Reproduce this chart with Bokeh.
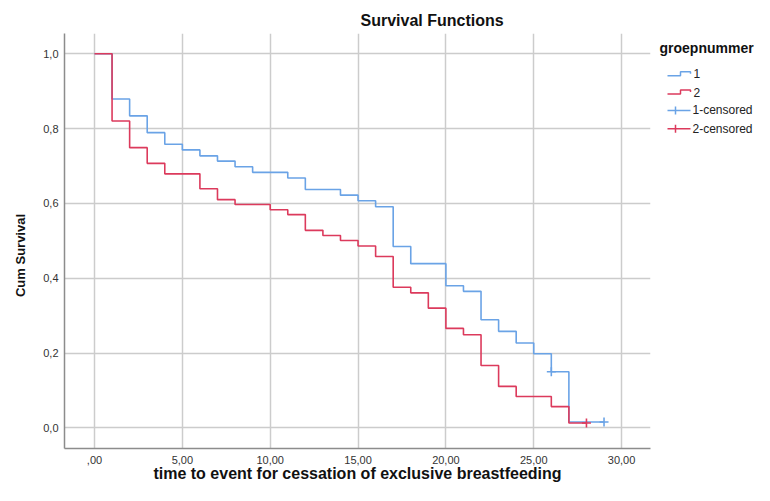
import math
from bokeh.plotting import figure
from bokeh.layouts import row
from bokeh.models import Range1d, FixedTicker
from bokeh.core.properties import value
from bokeh.embed import file_html
from bokeh.resources import INLINE

# ---------------- data ----------------
title_text = "Survival Functions"
x_label = "time to event for cessation of exclusive breastfeeding"
y_label = "Cum Survival"
legend_title = "groepnummer"
legend_labels = ["1", "2", "1-censored", "2-censored"]

# group 1 (blue): event times and survival after each time
g1_time = [0, 1, 2, 3, 4, 5, 6, 7, 8, 9, 11, 12, 14, 15, 16, 17, 18, 20, 21, 22, 23, 24, 25, 26, 27, 29]
g1_surv = [1.0, 0.879, 0.834, 0.789, 0.758, 0.743, 0.727, 0.713, 0.698, 0.683, 0.668, 0.637, 0.622,
           0.607, 0.591, 0.485, 0.439, 0.380, 0.365, 0.289, 0.258, 0.227, 0.198, 0.150, 0.016, 0.016]
g1_cens_time = [26, 29]
g1_cens_surv = [0.150, 0.016]

# group 2 (red)
g2_time = [0, 1, 2, 3, 4, 6, 7, 8, 10, 11, 12, 13, 14, 15, 16, 17, 18, 19, 20, 21, 22, 23, 24, 26, 27, 28]
g2_surv = [1.0, 0.820, 0.749, 0.707, 0.679, 0.639, 0.610, 0.597, 0.583, 0.570, 0.528, 0.514, 0.501,
           0.486, 0.458, 0.376, 0.361, 0.320, 0.266, 0.249, 0.167, 0.111, 0.084, 0.057, 0.013, 0.013]
g2_cens_time = [28]
g2_cens_surv = [0.013]

x_ticks = [0, 5, 10, 15, 20, 25, 30]
x_tick_labels = [",00", "5,00", "10,00", "15,00", "20,00", "25,00", "30,00"]
y_ticks = [0.0, 0.2, 0.4, 0.6, 0.8, 1.0]
y_tick_labels = ["0,0", "0,2", "0,4", "0,6", "0,8", "1,0"]

# ---------------- styles ----------------
BLUE = "#6aa3e6"
RED = "#dc3a5c"
FONT = "Liberation Sans"
GRID = "#cccccc"
AXIS = "#8c8c8c"
H = 485
TOP, BOTTOM = 33, 37          # borders shared by all panels (row aligns frames)
F_TOP, F_BOT = TOP, H - BOTTOM  # frame top/bottom in page pixels


def strip(width, y_range):
    f = figure(width=width, height=H, output_backend="svg", toolbar_location=None,
               x_range=Range1d(0, width), y_range=y_range,
               x_axis_type=None, y_axis_type=None,
               min_border_left=0, min_border_right=0,
               min_border_top=TOP, min_border_bottom=BOTTOM)
    f.outline_line_color = None
    f.grid.visible = False
    f.background_fill_color = "white"
    f.border_fill_color = "white"
    return f


# ---------------- left strip with the y-axis title (y measured from page bottom) ----------------
LEFT_W = 30
lf = strip(LEFT_W, Range1d(H - F_BOT, H - F_TOP))
lf.text(x=[20], y=[H - 255], text=[y_label], angle=math.pi / 2, text_align="center",
        text_baseline="middle", text_font=value(FONT), text_font_size="13px",
        text_font_style="bold", text_color="#111111")

# ---------------- main plot ----------------
p = figure(width=622, height=H, output_backend="svg", toolbar_location=None,
           x_range=Range1d(-1.707, 31.645), y_range=Range1d(-0.055, 1.054),
           min_border_left=34, min_border_right=2, min_border_top=TOP, min_border_bottom=BOTTOM)
p.outline_line_color = None
p.background_fill_color = "white"
p.border_fill_color = "white"

p.title.text = title_text
p.title.align = "left"
p.title.offset = 296
p.title.text_font = FONT
p.title.text_font_size = "16px"
p.title.text_font_style = "bold"
p.title.text_color = "#111111"

p.xaxis.ticker = FixedTicker(ticks=x_ticks)
p.yaxis.ticker = FixedTicker(ticks=y_ticks)
p.xaxis.major_label_overrides = dict(zip(x_ticks, x_tick_labels))
p.yaxis.major_label_overrides = dict(zip(y_ticks, y_tick_labels))
p.xgrid.ticker = FixedTicker(ticks=x_ticks)
p.ygrid.ticker = FixedTicker(ticks=y_ticks)
p.grid.grid_line_color = GRID
p.grid.grid_line_width = 1.5

for ax in (p.xaxis, p.yaxis):
    ax.axis_line_color = AXIS
    ax.axis_line_width = 1.5
    ax.major_tick_line_color = None
    ax.minor_tick_line_color = None
    ax.major_label_text_font = FONT
    ax.major_label_text_font_size = "11px"
    ax.major_label_text_color = "#333333"
p.xaxis.major_label_standoff = 1
p.yaxis.major_label_standoff = 0

p.xaxis.axis_label = x_label
p.xaxis.axis_label_text_font = FONT
p.xaxis.axis_label_text_font_size = "16px"
p.xaxis.axis_label_text_font_style = "bold"
p.xaxis.axis_label_text_color = "#111111"
p.xaxis.axis_label_standoff = -2

p.step(g1_time, g1_surv, mode="after", line_color=BLUE, line_width=1.6)
p.step(g2_time, g2_surv, mode="after", line_color=RED, line_width=1.6)
p.scatter(g1_cens_time, g1_cens_surv, marker="cross", size=9, line_color=BLUE, line_width=1.6)
p.scatter(g2_cens_time, g2_cens_surv, marker="cross", size=9, line_color=RED, line_width=1.6)

# ---------------- legend panel (page pixel coordinates, y downwards) ----------------
LW = 102
q = strip(LW, Range1d(F_BOT, F_TOP))

q.text(x=[7], y=[47], text=[legend_title], text_baseline="middle", text_align="left",
       text_font=value(FONT), text_font_size="14px", text_font_style="bold", text_color="#111111")

colors = [BLUE, RED, BLUE, RED]
y0, dy = 73.3, 18.3
for i, (lab, col) in enumerate(zip(legend_labels, colors)):
    cy = y0 + dy * i
    if i < 2:
        q.line([15, 28, 28, 38, 38], [cy + 2, cy + 2, cy - 2, cy - 2, cy], line_color=col, line_width=1.5)
        tx = 41
    else:
        q.line([15, 38], [cy, cy], line_color=col, line_width=1.5)
        q.line([23, 23], [cy - 4, cy + 4], line_color=col, line_width=1.5)
        tx = 40
    q.text(x=[tx], y=[cy], text=[lab], text_baseline="middle", text_align="left",
           text_font=value(FONT), text_font_size="12px", text_color="#222222")

layout = row(lf, p, q, spacing=0)
open("out.html", "w").write(file_html(layout, INLINE))
